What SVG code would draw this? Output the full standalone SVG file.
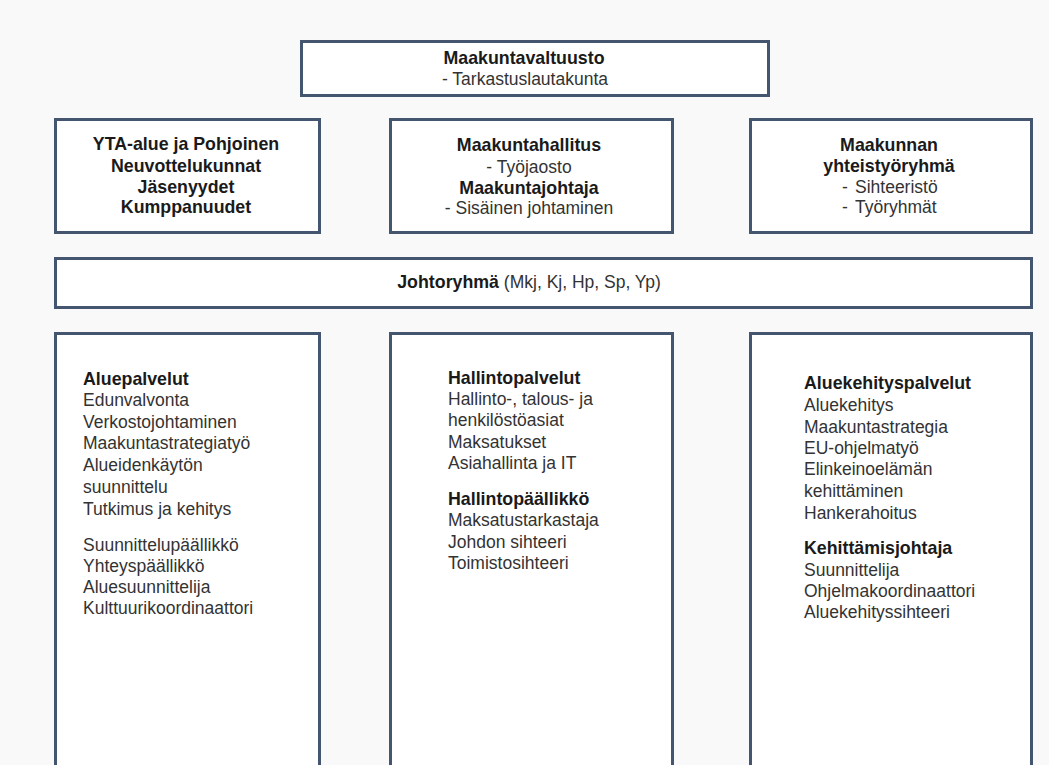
<svg xmlns="http://www.w3.org/2000/svg" width="1049" height="765" viewBox="0 0 1049 765">
<style>
.box{fill:#ffffff;stroke:#44566f;stroke-width:3}
text{font-family:"Liberation Sans",Arial,sans-serif;font-size:17.5px;fill:#333333}
.b{font-weight:bold;fill:#1a1a1a;font-size:17.8px}
.c{text-anchor:middle}
</style>
<rect x="0" y="0" width="1049" height="765" fill="#f9f9f9"/>
<g id="connectors"></g>
<g id="maakuntavaltuusto">
<rect class="box" x="301.5" y="41.5" width="467" height="54"/>
<text class="c b" x="524" y="64">Maakuntavaltuusto</text>
<text class="c" x="525" y="85">- Tarkastuslautakunta</text>
</g>
<g id="yta">
<rect class="box" x="55.5" y="119.5" width="264" height="113"/>
<text class="c b" x="186" y="150">YTA-alue ja Pohjoinen</text>
<text class="c b" x="186" y="172">Neuvottelukunnat</text>
<text class="c b" x="186" y="193">Jäsenyydet</text>
<text class="c b" x="186" y="213">Kumppanuudet</text>
</g>
<g id="maakuntahallitus">
<rect class="box" x="390.5" y="119.5" width="282" height="113"/>
<text class="c b" x="529" y="151">Maakuntahallitus</text>
<text class="c" x="529" y="173">- Työjaosto</text>
<text class="c b" x="529" y="194">Maakuntajohtaja</text>
<text class="c" x="529" y="214">- Sisäinen johtaminen</text>
</g>
<g id="yhteistyoryhma">
<rect class="box" x="750.5" y="119.5" width="281" height="113"/>
<text class="c b" x="889" y="151">Maakunnan</text>
<text class="c b" x="889" y="172">yhteistyöryhmä</text>
<text x="842" y="193">-</text><text x="855" y="193">Sihteeristö</text>
<text x="842" y="213">-</text><text x="855" y="213">Työryhmät</text>
</g>
<g id="johtoryhma">
<rect class="box" x="55.5" y="258.5" width="976" height="49"/>
<text class="c" x="529" y="288"><tspan class="b">Johtoryhmä</tspan> (Mkj, Kj, Hp, Sp, Yp)</text>
</g>
<g id="aluepalvelut">
<rect class="box" x="55.5" y="333.5" width="264" height="460"/>
<text x="83" y="385" class="b">Aluepalvelut</text>
<text x="83" y="406">Edunvalvonta</text>
<text x="83" y="427.5">Verkostojohtaminen</text>
<text x="83" y="449">Maakuntastrategiatyö</text>
<text x="83" y="470.5">Alueidenkäytön</text>
<text x="83" y="492.5">suunnittelu</text>
<text x="83" y="514.5">Tutkimus ja kehitys</text>
<text x="83" y="550.5">Suunnittelupäällikkö</text>
<text x="83" y="571.5">Yhteyspäällikkö</text>
<text x="83" y="592.5">Aluesuunnittelija</text>
<text x="83" y="614">Kulttuurikoordinaattori</text>
</g>
<g id="hallintopalvelut">
<rect class="box" x="390.5" y="333.5" width="282" height="460"/>
<text x="448" y="383.5" class="b">Hallintopalvelut</text>
<text x="448" y="405">Hallinto-, talous- ja</text>
<text x="448" y="426">henkilöstöasiat</text>
<text x="448" y="447.5">Maksatukset</text>
<text x="448" y="469">Asiahallinta ja IT</text>
<text x="448" y="505" class="b">Hallintopäällikkö</text>
<text x="448" y="526">Maksatustarkastaja</text>
<text x="448" y="547.5">Johdon sihteeri</text>
<text x="448" y="569">Toimistosihteeri</text>
</g>
<g id="aluekehityspalvelut">
<rect class="box" x="750.5" y="333.5" width="281" height="460"/>
<text x="804" y="389" class="b">Aluekehityspalvelut</text>
<text x="804" y="410.5">Aluekehitys</text>
<text x="804" y="432.5">Maakuntastrategia</text>
<text x="804" y="454">EU-ohjelmatyö</text>
<text x="804" y="475">Elinkeinoelämän</text>
<text x="804" y="497">kehittäminen</text>
<text x="804" y="519">Hankerahoitus</text>
<text x="804" y="554" class="b">Kehittämisjohtaja</text>
<text x="804" y="575.5">Suunnittelija</text>
<text x="804" y="597">Ohjelmakoordinaattori</text>
<text x="804" y="618">Aluekehityssihteeri</text>
</g>
</svg>
